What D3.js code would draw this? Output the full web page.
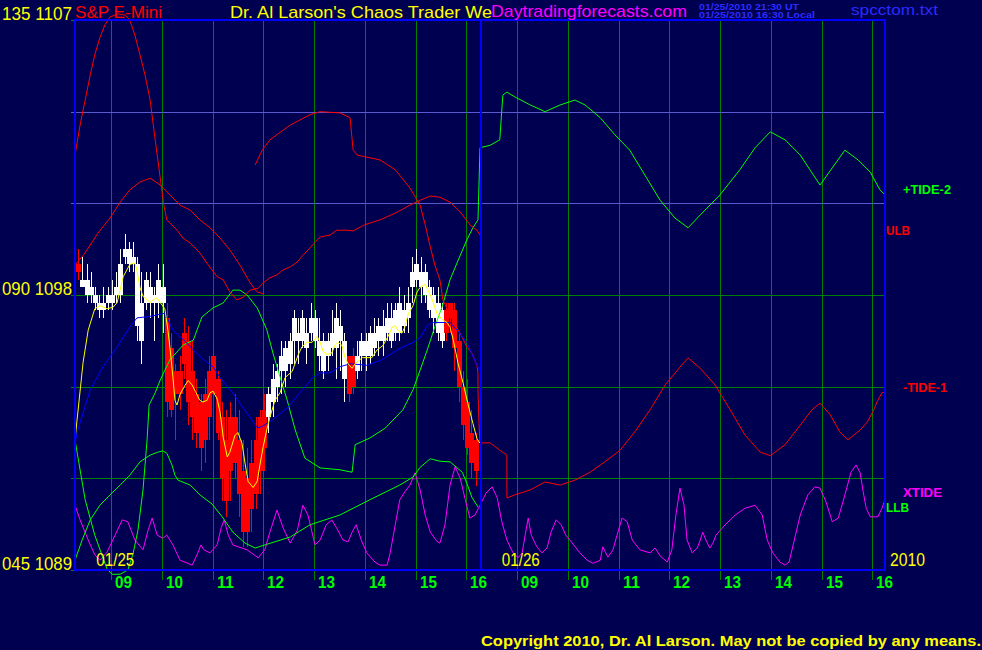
<!DOCTYPE html>
<html><head><meta charset="utf-8">
<script src="https://cdn.jsdelivr.net/npm/d3@7"></script>
<style>html,body{margin:0;padding:0;background:#000050;}svg{display:block}</style>
</head><body>
<svg id="chart" width="982" height="650"></svg>
<script>
// ---------- DATA ----------
// x axis: session hour index (0 = 09:00 on 01/25, 8 = 09:00 on 01/26)
const hourLabels = ["09","10","11","12","13","14","15","16","09","10","11","12","13","14","15","16"];
const dateLabels = [{t:-0.29,label:"01/25"},{t:7.7,label:"01/26"}];
const yearLabel = "2010";
const priceGrid = [1092,1095,1098,1101,1104];
const leftLabels = [{p:1107,label:"135 1107"},{p:1098,label:"090 1098"},{p:1089,label:"045 1089"}];

// 5-minute candles (price), first bar at t=-0.65
const candleHigh  = [1099.5,1099.25,1099,1098.75,1098.25,1098,1098.25,1098.25,1098.5,1098.75,1099.5,1100,1099.75,1099.75,1099.25,1098.75,1098.75,1098.75,1098.25,1099,1099,
 1097.75,1096.75,1095.75,1096,1097.25,1097,1096.5,1095.25,1094.75,1095.25,1096,1096.5,1095.5,1094.5,1094.25,1094.5,1094.75,1094.25,1093.25,1093,1093.25,1094,1094.25,1094.75,
 1095,1095.75,1095.75,1096.5,1096.5,1096.75,1097.5,1097.25,1097.5,1097.25,1097.75,1097.5,1097.25,1096.75,1096.75,1097.5,1097.75,1097.5,1096.75,1096,1096.25,
 1096.5,1096.75,1096.75,1097,1097.25,1097.25,1097.5,1097.75,1097.75,1097.75,1098.25,1098,1098.25,1099.25,1099.5,1099.25,1099,1098.5,1098.25,1098.25,1097.75,
 1097.75,1097.75,1097.75,1096.75,1095.5,1095.25,1094.25,1093.5];
const candleLow   = [1098.5,1098.25,1097.75,1097.75,1097.5,1097.25,1097.25,1097.5,1097.5,1097.75,1097.75,1099,1098.75,1098.75,1096.5,1095.75,1097.5,1097.25,1096.5,1097.25,1096.75,
 1094,1094,1093.25,1094.25,1095.25,1093.75,1093.25,1093,1092.25,1092.5,1093.25,1094,1093.25,1091.25,1090.75,1091.25,1092,1090.75,1089.75,1089.75,1090.25,1091,1091.5,1092.25,
 1093.5,1094,1094.5,1094.75,1095,1095.25,1095.75,1095.75,1096.25,1095.75,1096.5,1096.25,1095.5,1095.25,1095.5,1096,1095.25,1095.5,1094.5,1094.5,1094.75,
 1095.25,1095.5,1095.5,1095.75,1096,1096,1096,1096.5,1096.25,1096.5,1096.5,1096.75,1096.75,1097.75,1098.25,1097.75,1097.75,1097.25,1096.75,1096.5,1096.25,
 1096.5,1096.75,1095.5,1094.5,1093.25,1092.75,1092,1091.75];
const candleOpen  = [1099,1098.5,1098.5,1098.25,1098,1097.75,1097.75,1098,1098,1098.25,1099,1099.5,1099.5,1099.25,1099,1097.75,1098.5,1098.25,1098,1098.5,1098.25,
 1097.25,1096.25,1095.5,1095.5,1096.75,1096.5,1095.5,1094.75,1094.5,1094.75,1095.5,1096,1095.25,1094,1093.25,1094,1094,1093.25,1092.25,1092,1092.5,1093.25,1094,1094.25,
 1094.75,1095.25,1095.5,1096,1096.25,1096.5,1097.25,1096.75,1097.25,1096.75,1097.25,1097.25,1096.5,1096.5,1096.5,1096.75,1097.25,1097,1096.5,1096,1096,
 1096,1096.5,1096.5,1096.75,1096.75,1097,1097,1097.25,1097.25,1097.5,1097.75,1097.5,1097.75,1098.75,1099,1098.75,1098.75,1098.25,1098,1097.75,1097.5,
 1097.5,1097.75,1097.5,1096.5,1095,1094.5,1093.5,1093.25];
const candleClose = [1098.75,1098.25,1098,1098,1097.75,1097.5,1097.5,1097.75,1097.75,1098,1098,1099.25,1099,1099,1097,1096.5,1097.75,1097.75,1097.75,1097.75,1097.75,
 1094.5,1094.25,1094.75,1094.75,1095.75,1094.5,1094,1093.5,1093,1093.25,1094,1094.75,1093.5,1092,1091.25,1092.25,1092.5,1091.5,1090.25,1090.25,1091,1091.5,1092.25,1093,
 1094,1094.5,1095,1095.5,1095.5,1095.75,1096.5,1096.5,1096.5,1096.25,1096.75,1096.5,1096,1095.5,1096,1096.25,1096.25,1096.5,1095.25,1094.75,1095,
 1095.5,1096,1096,1096,1096.25,1096.5,1096.5,1096.75,1096.5,1096.75,1096.75,1097,1097.25,1098.25,1098.5,1098.25,1098,1097.5,1097.25,1096.75,1096.5,
 1096.75,1097.25,1096.25,1095,1093.75,1093,1092.5,1092.25];
const candleColor = "RWWWWWWWWWWWWWWWWWWWWRRRRRRRRRRRRRRRRRRRRRRRRWWWWWWWWWWWWWWWWWWWRRWWWWWWWWWWWWWWWWWWWWWRRRRRRRR";

// moving averages [t, price]
const yellowMA = [[-0.71,1093.25],[-0.67,1093.9],[-0.55,1095.8],[-0.45,1096.85],[-0.32,1097.55],[-0.22,1097.65],[-0.08,1097.55],[0.04,1097.6],[0.12,1097.75],[0.24,1098.6],[0.37,1099.0],[0.47,1099.05],[0.51,1098.8],[0.57,1098.25],[0.63,1097.95],[0.71,1097.85],[0.77,1097.75],[0.83,1097.85],[0.91,1097.9],[0.97,1097.75],[1.06,1097.55],[1.12,1096.85],[1.16,1096.3],[1.22,1095.3],[1.26,1094.55],[1.30,1094.4],[1.36,1094.75],[1.46,1095.05],[1.52,1095.2],[1.60,1095.05],[1.66,1094.85],[1.75,1094.55],[1.81,1094.5],[1.89,1094.55],[1.95,1094.8],[2.01,1094.85],[2.09,1094.6],[2.15,1094.15],[2.21,1093.35],[2.29,1092.7],[2.34,1092.85],[2.44,1093.4],[2.50,1093.5],[2.58,1093.15],[2.64,1092.5],[2.70,1091.9],[2.80,1091.7],[2.88,1091.9],[2.94,1092.5],[3.00,1093.05],[3.07,1093.6],[3.13,1094.0],[3.23,1094.55],[3.33,1094.8],[3.43,1095.3],[3.57,1095.5],[3.69,1096.05],[3.76,1096.3],[3.86,1096.45],[3.96,1096.45],[4.06,1096.65],[4.12,1096.45],[4.18,1096.15],[4.26,1096.05],[4.35,1096.1],[4.41,1096.35],[4.47,1096.45],[4.55,1096.35],[4.61,1095.95],[4.67,1095.75],[4.75,1095.6],[4.81,1095.75],[4.95,1095.95],[5.14,1095.95],[5.24,1096.2],[5.36,1096.35],[5.46,1096.65],[5.54,1096.95],[5.60,1097.0],[5.65,1096.85],[5.73,1096.75],[5.79,1096.95],[5.85,1097.35],[5.95,1097.65],[6.03,1098.1],[6.09,1098.25],[6.19,1098.35],[6.25,1098.15],[6.33,1097.85],[6.42,1097.4],[6.52,1097.2],[6.62,1097.1],[6.68,1096.95],[6.74,1096.55],[6.84,1095.75],[6.94,1095.1],[7.03,1094.45],[7.13,1093.8],[7.21,1093.3],[7.27,1093.15]];
const blueMA = [[-0.71,1093.1],[-0.67,1093.5],[-0.41,1094.9],[-0.16,1095.65],[0.12,1096.3],[0.37,1096.95],[0.51,1097.25],[0.77,1097.3],[0.91,1097.35],[1.06,1097.4],[1.12,1097.2],[1.22,1096.85],[1.42,1096.55],[1.62,1096.2],[1.81,1095.9],[2.01,1095.65],[2.15,1095.3],[2.29,1095.0],[2.40,1094.8],[2.54,1094.45],[2.74,1094.0],[2.88,1093.65],[2.98,1093.7],[3.17,1093.9],[3.47,1094.3],[3.72,1094.8],[3.98,1095.3],[4.12,1095.45],[4.31,1095.45],[4.51,1095.65],[4.71,1095.75],[5.04,1095.7],[5.30,1095.85],[5.50,1096.05],[5.69,1096.25],[5.95,1096.45],[6.09,1096.6],[6.23,1097.0],[6.35,1097.1],[6.68,1097.1],[6.82,1096.85],[7.01,1096.45],[7.13,1096.0],[7.27,1095.5]];

// tide curves on the 45..135 scale [t, value]
const tide2 = [[-0.71,66.3],[-0.51,56.5],[-0.32,50.7],[-0.16,47],[-0.08,45.2],[0.02,44.3],[0.18,44.3],[0.33,45],[0.43,47.5],[0.53,51.5],[0.63,58.1],[0.71,66.3],[0.75,72],[0.87,74],[0.97,76.1],[1.16,79.4],[1.42,81.8],[1.62,82.6],[1.79,86.4],[2.01,87.9],[2.21,88.7],[2.40,90.8],[2.54,90.8],[2.68,90],[2.88,87.9],[3.07,84.3],[3.19,80.5],[3.33,76.6],[3.47,72.8],[3.63,67.9],[3.82,63.3],[4.12,61.7],[4.51,61.4],[4.75,61],[4.81,65.5],[5.10,66.6],[5.40,68.2],[5.75,71.2],[5.95,74.5],[6.09,77.7],[6.23,81],[6.38,84.8],[6.52,88],[6.68,92.5],[6.84,95.7],[7.01,99],[7.13,101],[7.23,102.3],[7.27,114.1],[7.47,114.5],[7.66,115.4],[7.72,122.7],[7.80,123.2],[7.96,122.4],[8.26,121.1],[8.55,120],[8.85,121.1],[9.14,121.9],[9.34,121.1],[9.64,119],[9.93,116.2],[10.22,113.7],[10.52,109.6],[10.82,105.5],[11.11,102.6],[11.37,101],[11.61,103.1],[12.0,106.4],[12.39,110.5],[12.69,114.1],[12.99,116.7],[13.28,115.4],[13.58,112.9],[13.77,110.5],[13.97,108],[14.21,110.8],[14.46,113.7],[14.72,112.1],[14.96,110.1],[15.15,107.2],[15.25,106.4]];
const llb = [[-0.71,46.6],[-0.57,49.9],[-0.41,53.2],[-0.22,55.6],[-0.02,57.3],[0.18,58.9],[0.37,60.5],[0.57,62.7],[0.77,63.8],[0.93,64.3],[1.02,64.5],[1.10,64.1],[1.20,62.2],[1.26,60.5],[1.32,59.7],[1.56,58.9],[1.75,57.3],[1.99,55.8],[2.19,53.7],[2.40,51.2],[2.64,49.4],[2.84,48.6],[3.03,49.1],[3.53,50.4],[3.92,52.4],[4.51,54],[5.10,56.5],[5.69,58.9],[5.95,60.2],[6.09,61.8],[6.29,63.2],[6.48,62.8],[6.68,62.7],[6.92,61],[7.01,59.2],[7.11,56.9],[7.23,55.3]];
const ulb = [[-0.71,112.9],[-0.61,117.8],[-0.51,121.9],[-0.41,126],[-0.32,129.3],[-0.22,132.1],[-0.12,134.2],[-0.02,135.5],[0.14,136],[0.28,135.8],[0.37,135],[0.47,132.5],[0.57,129.3],[0.67,126],[0.77,121.9],[0.87,115.4],[0.97,109.1],[1.04,104.7],[1.10,102.3],[1.30,100.6],[1.42,99.3],[1.56,98.5],[1.75,96.9],[1.89,95.2],[1.99,94.1],[2.09,93],[2.21,92.5],[2.34,90.5],[2.48,89.2],[2.60,89.6],[2.74,90.8],[2.90,91.1],[3.00,92],[3.13,92.8],[3.27,93.3],[3.39,94.1],[3.53,94.6],[3.67,95.4],[3.78,96.5],[3.92,97.7],[4.06,99],[4.12,99.5],[4.31,99.8],[4.45,100.6],[4.65,100.6],[4.77,100.5],[5.00,101.5],[5.30,102.3],[5.60,103.4],[5.89,104.7],[6.09,105.5],[6.29,106.2],[6.48,106],[6.68,105.2],[6.88,103.6],[7.07,101.5],[7.21,100.6],[7.27,99.8]];
const redBand = [[-0.71,94.9],[-0.51,96.9],[-0.37,98.7],[-0.26,100.1],[-0.02,102.6],[0.18,105.2],[0.37,107.2],[0.57,108.5],[0.77,109.1],[0.97,108],[1.16,106.4],[1.36,104.7],[1.56,103.9],[1.75,102.3],[1.95,101],[2.15,99.3],[2.34,97.4],[2.54,94.9],[2.74,92],[2.88,90.5],[3.0,90.2]];
const tide1 = [[2.84,111.3],[2.98,113.7],[3.13,115.4],[3.53,117.8],[3.92,119.5],[4.12,120],[4.51,119.8],[4.71,119],[4.77,113.7],[4.85,112.9],[5.30,112.1],[5.60,110.5],[5.89,107.5],[6.09,104.7],[6.19,101.5],[6.29,97.9],[6.38,94.9],[6.48,92.5],[6.54,89.2],[6.68,86.7],[6.82,84.6],[6.92,83.1],[7.01,81.5],[7.11,80.5],[7.21,78.5],[7.23,77.2],[7.23,74.5],[7.25,69],[7.27,65.8],[7.47,65.8],[7.66,64.6],[7.80,63.8],[7.80,56.8],[7.96,57.3],[8.26,58.1],[8.55,59.4],[8.85,58.9],[9.14,59.7],[9.44,61],[9.73,62.7],[10.03,64.6],[10.32,67.6],[10.62,71.2],[10.92,75.3],[11.21,78.2],[11.37,79.7],[11.61,78],[11.9,75.3],[12.2,71.2],[12.49,67.1],[12.79,64.3],[12.99,63.7],[13.28,65.5],[13.58,68.7],[13.81,71.2],[13.97,72.3],[14.17,70.4],[14.36,67.6],[14.52,66.3],[14.76,67.9],[14.90,69.2],[15.01,70.9],[15.11,72.8],[15.19,74],[15.25,74.1]];
const xtide = [[-0.71,55.6],[-0.61,53.2],[-0.45,49.9],[-0.32,47.5],[-0.22,46.6],[-0.08,47.9],[0.08,50.7],[0.22,53.2],[0.33,52.9],[0.47,49.9],[0.63,48.3],[0.73,51.5],[0.81,53.5],[0.91,50.7],[1.02,50.2],[1.10,50.7],[1.22,49.1],[1.36,46.6],[1.60,45.8],[1.71,47.8],[1.77,49.1],[1.83,48.3],[1.95,47.8],[2.09,49.1],[2.17,51.9],[2.23,53.2],[2.31,50.7],[2.40,49.1],[2.68,48.3],[2.90,47],[3.03,48.3],[3.13,51.2],[3.27,54.8],[3.39,51.9],[3.53,49.4],[3.67,51.5],[3.78,55.6],[3.88,54],[4.02,49.1],[4.12,49.9],[4.24,52.4],[4.35,53.2],[4.47,51.5],[4.57,49.9],[4.67,49.6],[4.75,51.2],[4.83,52.4],[4.93,49.9],[5.04,47.8],[5.20,46.3],[5.30,45.8],[5.44,45.8],[5.50,47.8],[5.60,52.4],[5.69,56.5],[5.79,57.8],[5.89,58.9],[5.99,60.9],[6.09,58.1],[6.19,54],[6.29,51.2],[6.42,49.7],[6.48,49.4],[6.58,52.4],[6.68,58.9],[6.78,61.9],[6.88,60],[6.98,56.5],[7.07,53.5],[7.17,54],[7.27,55.6],[7.39,57.6],[7.51,58.6],[7.61,56.8],[7.70,52.9],[7.80,49.9],[7.92,47.8],[8.02,47],[8.10,47.8],[8.16,50.7],[8.22,53.5],[8.28,50.7],[8.39,48.8],[8.49,47.8],[8.59,48.6],[8.67,51.2],[8.77,53.2],[8.87,52.4],[8.96,50.7],[9.04,49.9],[9.24,47.8],[9.38,46.6],[9.50,46.1],[9.64,46.6],[9.69,48.8],[9.79,47.1],[9.89,48.3],[9.97,50.7],[10.07,53.5],[10.17,52.9],[10.27,49.9],[10.42,48.3],[10.62,47.8],[10.72,48.6],[10.82,47.3],[10.96,46.3],[11.05,48.3],[11.13,54],[11.21,58.4],[11.29,55.6],[11.35,49.9],[11.45,47.8],[11.55,48.6],[11.61,49.9],[11.66,51.2],[11.72,49.9],[11.80,48.6],[11.86,49.4],[11.92,50.7],[12.10,52.4],[12.30,54],[12.49,55.1],[12.69,55.6],[12.83,54],[12.93,49.9],[13.04,47.8],[13.18,46.3],[13.28,45.8],[13.36,46.3],[13.44,49.1],[13.58,54],[13.73,57.3],[13.87,58.6],[13.97,58.4],[14.09,56.1],[14.21,52.9],[14.33,53.5],[14.46,57.3],[14.58,61],[14.68,62.2],[14.76,60.9],[14.82,57.8],[14.88,55.1],[14.96,53.7],[15.11,53.7],[15.19,55.1],[15.25,56.5]];

const rightLabels = [
  {label:"+TIDE-2", x:903, y:194, color:"#00ff00", w:48},
  {label:"ULB",     x:886, y:235, color:"#ff0000", w:24},
  {label:"-TIDE-1", x:903, y:392, color:"#ff0000", w:44},
  {label:"XTIDE",   x:903, y:497, color:"#ff00ff", w:39},
  {label:"LLB",     x:886, y:512, color:"#00ff00", w:23}
];
const nowT = 7.29;

// ---------- DRAW ----------
(function () {
const W = 982, H = 650;
const svg = d3.select("#chart");
const FONT = "'Liberation Sans', Arial, Helvetica, sans-serif";
const pL = 75, pR = 885, pT = 20, pB = 570;

const x = d3.scaleLinear().domain([-0.71, 15.25]).range([pL, pR]);
const yP = d3.scaleLinear().domain([1089, 1107]).range([pB, pT]);
const yT = d3.scaleLinear().domain([45, 135]).range([pB, pT]);

svg.append("rect").attr("width", W).attr("height", H).attr("fill", "#000050");

const hourIdx = d3.range(hourLabels.length);
const gGrid = svg.append("g").attr("shape-rendering", "crispEdges");
gGrid.selectAll("line.v").data(hourIdx).join("line")
  .attr("x1", d => Math.round(x(d)) + 0.5).attr("x2", d => Math.round(x(d)) + 0.5)
  .attr("y1", pT).attr("y2", pB + 10)
  .attr("stroke", "#008000").attr("stroke-width", 1);
gGrid.selectAll("line.h").data(priceGrid).join("line")
  .attr("x1", pL - 4).attr("x2", pR)
  .attr("y1", d => Math.round(yP(d)) + 0.5).attr("y2", d => Math.round(yP(d)) + 0.5)
  .attr("stroke", d => d >= 1101 ? "#5a5ad0" : "#008000").attr("stroke-width", 1);
[1089, 1107].forEach(p => gGrid.append("line").attr("x1", pL - 4).attr("x2", pL)
  .attr("y1", Math.round(yP(p)) + 0.5).attr("y2", Math.round(yP(p)) + 0.5).attr("stroke", "#008000"));

const candles = candleHigh.map((h, i) => ({
  t: -0.65 + i / 12, h, l: candleLow[i], o: candleOpen[i], c: candleClose[i], col: candleColor[i] === "R" ? "#ff0000" : "#ffffff"
}));
const gC = svg.append("g").attr("shape-rendering", "crispEdges");
gC.selectAll("line").data(candles).join("line")
  .attr("x1", d => Math.round(x(d.t)) + 0.5).attr("x2", d => Math.round(x(d.t)) + 0.5)
  .attr("y1", d => yP(d.h)).attr("y2", d => yP(d.l))
  .attr("stroke", d => d.col).attr("stroke-width", 1);
gC.selectAll("rect").data(candles).join("rect")
  .attr("x", d => Math.round(x(d.t)) - 2).attr("width", 5)
  .attr("y", d => yP(Math.max(d.o, d.c)))
  .attr("height", d => Math.max(1, Math.abs(yP(d.o) - yP(d.c))))
  .attr("fill", d => d.col);

const lineT = d3.line().x(d => x(d[0])).y(d => yT(d[1]));
const lineP = d3.line().x(d => x(d[0])).y(d => yP(d[1]));
const gL = svg.append("g").attr("fill", "none").attr("stroke-width", 1);
gL.append("path").attr("d", lineT(xtide)).attr("stroke", "#ff00ff");
gL.append("path").attr("d", lineT(llb)).attr("stroke", "#00ff00");
gL.append("path").attr("d", lineT(tide2)).attr("stroke", "#00ff00");
gL.append("path").attr("d", lineT(redBand)).attr("stroke", "#ff0000");
gL.append("path").attr("d", lineT(ulb)).attr("stroke", "#ff0000");
gL.append("path").attr("d", lineT(tide1)).attr("stroke", "#ff0000");
gL.append("path").attr("d", lineP(blueMA)).attr("stroke", "#0000ff");
gL.append("path").attr("d", lineP(yellowMA)).attr("stroke", "#ffff00");

const gF = svg.append("g").attr("shape-rendering", "crispEdges");
gF.append("rect").attr("x", pL).attr("y", pT).attr("width", pR - pL).attr("height", pB - pT)
  .attr("fill", "none").attr("stroke", "#0000ff").attr("stroke-width", 2);
gF.append("line").attr("x1", x(nowT)).attr("x2", x(nowT)).attr("y1", pT).attr("y2", pB)
  .attr("stroke", "#0000ff").attr("stroke-width", 2);

function txt(s, xx, yy, opt) {
  const t = svg.append("text").attr("x", xx).attr("y", yy).text(s)
    .attr("font-family", FONT).attr("font-size", opt.size).attr("fill", opt.fill)
    .attr("font-weight", opt.bold ? "bold" : "normal");
  if (opt.w) t.attr("textLength", opt.w).attr("lengthAdjust", "spacingAndGlyphs");
  return t;
}
leftLabels.forEach(d => txt(d.label, 2, Math.round(yP(d.p)) - 0.5, {size: 19, fill: "#ffff00", w: 70}));
hourIdx.forEach(i => txt(hourLabels[i], Math.round(x(i)) + 4, 588, {size: 17, fill: "#00ff00", bold: true, w: 17}));
dateLabels.forEach(d => txt(d.label, x(d.t), 566, {size: 18, fill: "#ffff00", w: 38}));
txt(yearLabel, 890, 566, {size: 18, fill: "#ffff00", w: 35});
txt("S&P E-Mini", 75, 18, {size: 17, fill: "#ff0000", w: 87});
txt("Dr. Al Larson's Chaos Trader We", 230, 18, {size: 17, fill: "#ffff00", w: 262});
txt("Daytradingforecasts.com", 491, 17, {size: 17, fill: "#ff00ff", w: 196});
txt("01/25/2010 21:30 UT", 699, 9.5, {size: 8.5, fill: "#2b2bff", bold: true, w: 100});
txt("01/25/2010 16:30 Local", 699, 18, {size: 8.5, fill: "#2b2bff", bold: true, w: 116});
txt("spcctom.txt", 851, 15, {size: 15, fill: "#2b2bff", w: 87});
rightLabels.forEach(d => txt(d.label, d.x, d.y, {size: 12.5, fill: d.color, bold: true, w: d.w}));
txt("Copyright 2010, Dr. Al Larson. May not be copied by any means.", 481, 646, {size: 15, fill: "#ffff00", bold: true, w: 500});
})();
</script>
</body></html>
